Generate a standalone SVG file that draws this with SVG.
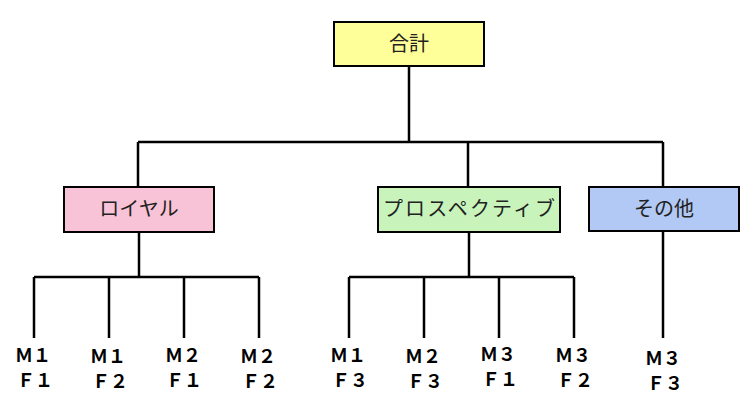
<svg xmlns="http://www.w3.org/2000/svg" width="750" height="414" viewBox="0 0 750 414">
<style>
.box{stroke:#000;stroke-width:2}
.lbl{font-family:"Noto Sans CJK JP","Noto Sans",sans-serif;font-size:20px;fill:#222;text-anchor:middle}
.leaf{font-family:"Noto Sans CJK JP","Noto Sans",sans-serif;font-size:18px;font-weight:bold;fill:#000;text-anchor:middle}
.conn{stroke:#000;stroke-width:2.5;fill:none}
</style>
<rect width="750" height="414" fill="#fff"/>
<g id="connectors">
<path class="conn" d="M409 66V142M138 142H663M138 142V187M468 142V187M663 142V187"/>
<path class="conn" d="M139 232V277M34 277H259M34 277V338M109 277V338M184 277V338M259 277V338"/>
<path class="conn" d="M469 232V277M349 277H574M349 277V338M424 277V338M499 277V338M574 277V338"/>
<path class="conn" d="M663 231V338"/>
</g>
<g id="total"><rect class="box" x="334" y="22" width="150" height="44" fill="#FFFF99"/><text class="lbl" x="409" y="51">合計</text></g>
<g id="royal"><rect class="box" x="64" y="187" width="150" height="45" fill="#F8C3D7"/><text class="lbl" x="139" y="216">ロイヤル</text></g>
<g id="prospective"><rect class="box" x="378" y="187" width="182" height="45" fill="#C8F4BC"/><text class="lbl" x="469" y="216" textLength="172" lengthAdjust="spacing">プロスペクティブ</text></g>
<g id="other"><rect class="box" x="589" y="187" width="150" height="44" fill="#B1C9F4"/><text class="lbl" x="664" y="216">その他</text></g>
<g id="m1f1"><text class="leaf" x="33" y="362">Ｍ１</text><text class="leaf" x="35" y="387">Ｆ１</text></g>
<g id="m1f2"><text class="leaf" x="108" y="363">Ｍ１</text><text class="leaf" x="110" y="388">Ｆ２</text></g>
<g id="m2f1"><text class="leaf" x="183" y="362">Ｍ２</text><text class="leaf" x="184" y="387">Ｆ１</text></g>
<g id="m2f2"><text class="leaf" x="258" y="363">Ｍ２</text><text class="leaf" x="260" y="388">Ｆ２</text></g>
<g id="m1f3"><text class="leaf" x="348" y="362">Ｍ１</text><text class="leaf" x="350" y="387">Ｆ３</text></g>
<g id="m2f3"><text class="leaf" x="423" y="363">Ｍ２</text><text class="leaf" x="425" y="388">Ｆ３</text></g>
<g id="m3f1"><text class="leaf" x="498" y="361">Ｍ３</text><text class="leaf" x="500" y="386">Ｆ１</text></g>
<g id="m3f2"><text class="leaf" x="573" y="362">Ｍ３</text><text class="leaf" x="575" y="387">Ｆ２</text></g>
<g id="m3f3"><text class="leaf" x="663" y="365">Ｍ３</text><text class="leaf" x="665" y="390">Ｆ３</text></g>
</svg>
